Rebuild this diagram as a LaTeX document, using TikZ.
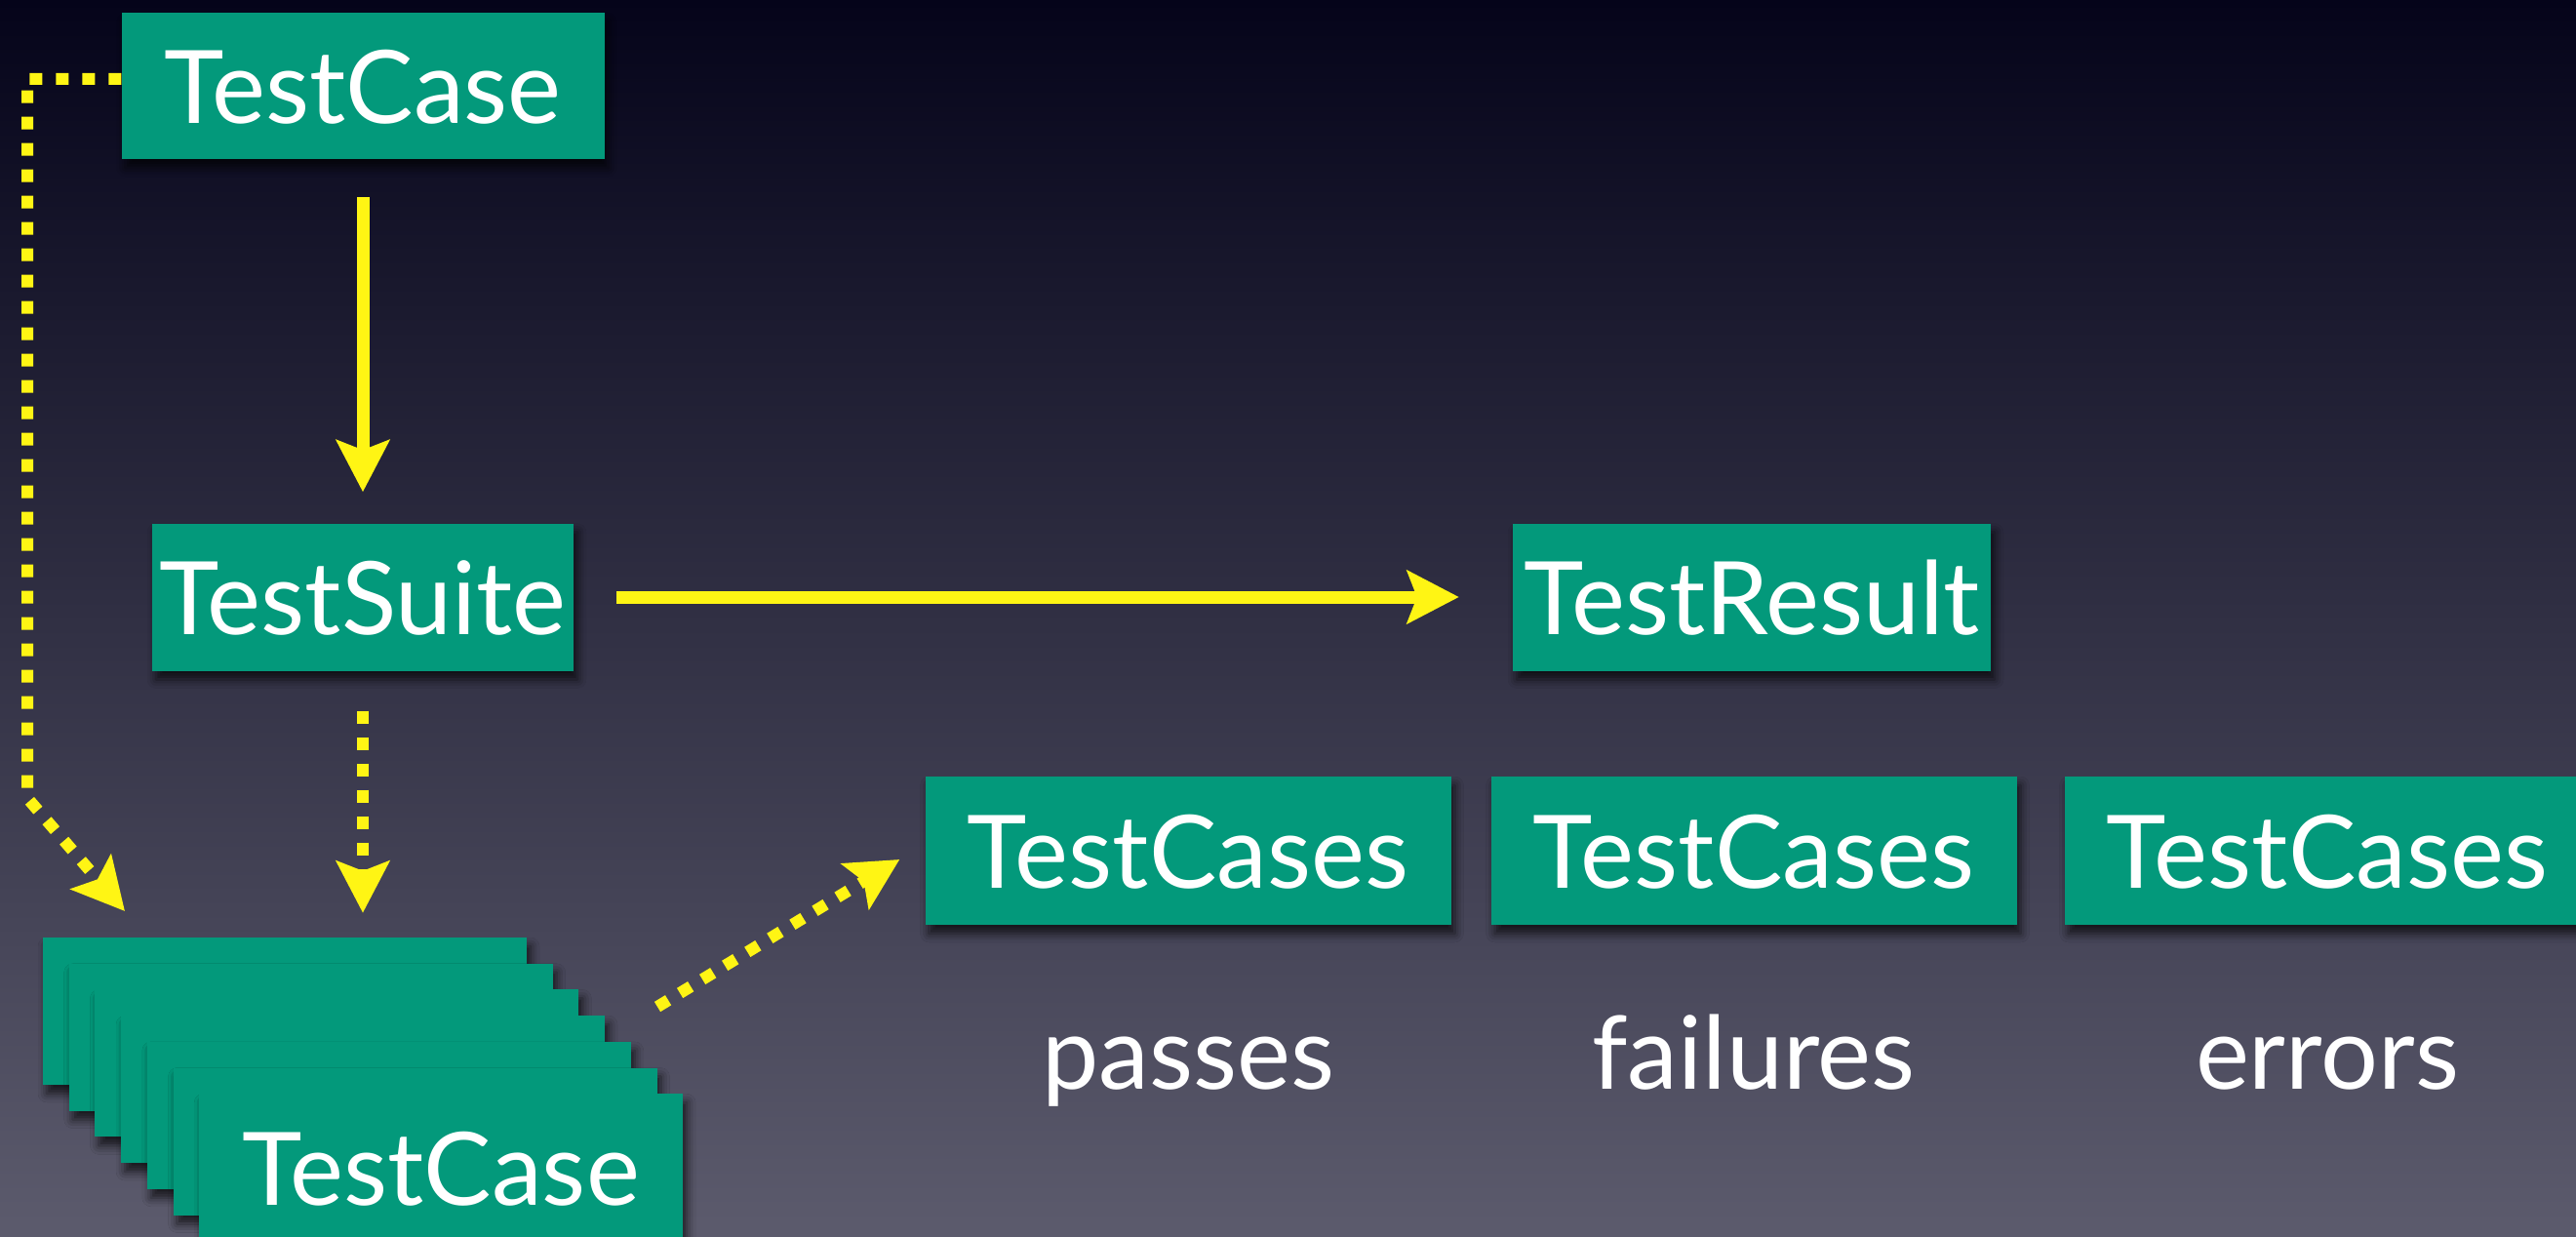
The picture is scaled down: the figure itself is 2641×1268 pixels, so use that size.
\documentclass[tikz,border=0pt]{standalone}
\usepackage{fontspec}
\setmainfont{Lato}
\usetikzlibrary{arrows.meta,shadows.blur}
\definecolor{bgtop}{HTML}{05041A}
\definecolor{bgmid}{HTML}{37364F}
\definecolor{bgbot}{HTML}{5C5B6D}
\definecolor{boxteal}{HTML}{03997B}
\definecolor{arrowyellow}{HTML}{FFF514}
\begin{document}
\begin{tikzpicture}[x=1pt,y=-1pt,
  box/.style={fill=boxteal, text=white, inner sep=0pt, text height=77pt, text depth=0pt,
    font=\fontsize{104}{110}\selectfont,
    blur shadow={shadow xshift=4pt, shadow yshift=-9pt, shadow blur radius=9pt, shadow opacity=70}},
  lbl/.style={text=white, inner sep=0pt, anchor=base, font=\fontsize{104}{110}\selectfont},
  solidarrow/.style={draw=arrowyellow, line width=13pt, -{Stealth[length=53pt,width=54pt,inset=10pt]}},
  dotarrow/.style={solidarrow, line width=12pt, dash pattern=on 13pt off 14pt},
]
\useasboundingbox (0,0) rectangle (2641,1268);
\clip (0,0) rectangle (2641,1268);
\shade[top color=bgtop, middle color=bgmid, bottom color=bgbot] (0,0) rectangle (2641,1268);

% top nodes
\node[box, minimum width=495pt, minimum height=150pt] (tc) at (372,88) {TestCase};
\node[box, minimum width=432pt, minimum height=151pt] (ts) at (372,612) {TestSuite};
\node[box, minimum width=490pt, minimum height=151pt] (tr) at (1796,612) {TestResult};

% result boxes
\node[box, minimum width=539pt, minimum height=152pt] (cs1) at (1218,872) {TestCases};
\node[box, minimum width=539pt, minimum height=152pt] (cs2) at (1798,872) {TestCases};
\node[box, minimum width=539pt, minimum height=152pt] (cs3) at (2386,872) {TestCases};

\node[lbl] (lp) at (1218,1116) {passes};
\node[lbl] (lf) at (1798,1116) {failures};
\node[lbl] (le) at (2386,1116) {errors};

% stack of test cases
\foreach \i in {0,...,5}
  \node[box, minimum width=496pt, minimum height=151pt] (stk\i) at ({292+26.7*\i},{1036.5+26.7*\i}) {};
\node[box, minimum width=496pt, minimum height=151pt] (stk) at (452.2,1196.7) {TestCase};

% connectors
\draw[solidarrow, shorten <=39pt, shorten >=32pt] (tc.south) -- (ts.north);
\draw[solidarrow, shorten <=44pt, shorten >=55pt] (ts.east) -- (tr.west);
\draw[dotarrow, shorten <=41pt, shorten >=25pt] (ts.south) -- (ts.south |- stk0.north);

\coordinate (e1) at (28,81);
\coordinate (e2) at (28,818);
\coordinate (e3) at (128,934);
\draw[dotarrow] ([yshift=7pt]tc.west) -- (e1) -- (e2) -- (e3);

\coordinate (s1) at (674,1032);
\draw[dotarrow] (s1) -- ([xshift=-26pt,yshift=-9pt]cs1.west);
\end{tikzpicture}
\end{document}
